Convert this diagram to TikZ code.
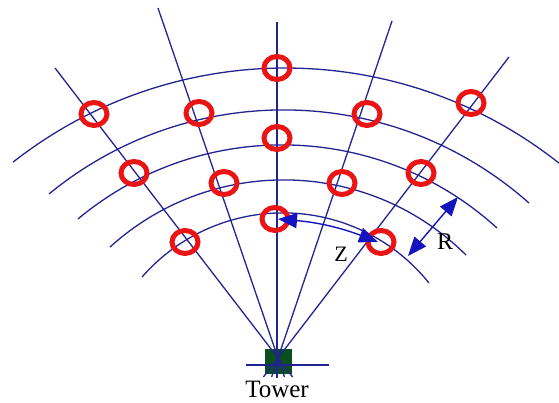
\documentclass[tikz,border=0pt]{standalone}
\usepackage{fontspec}
\setmainfont{Liberation Serif}
\usetikzlibrary{arrows.meta,shapes.geometric}
\definecolor{navy}{RGB}{35,35,145}
\definecolor{arrblue}{RGB}{20,20,190}
\definecolor{ringred}{RGB}{235,20,20}
\definecolor{towergreen}{RGB}{10,80,30}
\begin{document}
\begin{tikzpicture}[x=1pt,y=1pt,
  grid/.style={draw=navy,line width=1.3pt},
  ring/.style={ellipse,draw=ringred,line width=5pt,minimum width=26pt,minimum height=23pt,inner sep=0pt},
  dim/.style={draw=arrblue,line width=1.4pt,{Triangle[length=19pt,width=15pt]}-{Triangle[length=19pt,width=15pt]}},
  lbl/.style={inner sep=0pt,text=black}]
\useasboundingbox (0,0) rectangle (559,403);
% tower
\node[draw=towergreen,fill=towergreen,minimum width=26pt,minimum height=24pt,inner sep=0pt] (tower) at (278,42) {};
\coordinate (hl) at (246,38);
\coordinate (hr) at (329,38);
\draw[grid] (hl) -- (hr);
% radial lines
\coordinate (tL1) at (55,335);  \coordinate (bL1) at (292.6,26);
\coordinate (tL2) at (158,395); \coordinate (bL2) at (284.5,26);
\coordinate (tC)  at (277,381); \coordinate (bC)  at (277,25);
\coordinate (tR1) at (392,382); \coordinate (bR1) at (271.6,26);
\coordinate (tR2) at (509,346); \coordinate (bR2) at (263.4,26);
\draw[grid] (tL1) -- (bL1);
\draw[grid] (tL2) -- (bL2);
\draw[grid,line width=1.6pt] (tC) -- (bC);
\draw[grid] (tR1) -- (bR1);
\draw[grid] (tR2) -- (bR2);
% arcs
\draw[grid] (285.4,-106.1) ++(51.67:441.1) arc[start angle=51.67,end angle=128.12,radius=441.1];
\draw[grid] (283.7,-76.6) ++(48.43:369.7) arc[start angle=48.43,end angle=129.41,radius=369.7];
\draw[grid] (282.3,-60.8) ++(47.68:318.9) arc[start angle=47.68,end angle=129.84,radius=318.9];
\draw[grid] (283.8,-35.4) ++(45.18:258.5) arc[start angle=45.18,end angle=132.24,radius=258.5];
\draw[grid] (283,3.1) ++(38.68:187) arc[start angle=38.68,end angle=138.92,radius=187];
% rings
\node[ring] (c1) at (277,335) {};
\node[ring] (c2) at (94,289) {};
\node[ring] (c3) at (199,290) {};
\node[ring] (c4) at (367,289) {};
\node[ring] (c5) at (471,300) {};
\node[ring] (c6) at (277,265) {};
\node[ring] (c7) at (134,230) {};
\node[ring] (c8) at (224,220) {};
\node[ring] (c9) at (342,220) {};
\node[ring] (c10) at (421,230) {};
\node[ring] (c11) at (185,161) {};
\node[ring] (c12) at (275,184) {};
\node[ring] (c13) at (381,161) {};
% Z arrow
\coordinate (zl) at (278,184);
\coordinate (zr) at (378,161);
\draw[dim] (zl) to[bend left=8] (zr);
\node[lbl,font=\fontsize{22}{22}\selectfont] (zlab) at (341,149) {Z};
% R arrow
\coordinate (ru) at (458,206);
\coordinate (rd) at (408,147);
\draw[dim] (rd) -- (ru);
\node[lbl,font=\fontsize{24}{24}\selectfont] (rlab) at (445,161) {R};
% tower label
\node[lbl,anchor=base,font=\fontsize{25}{25}\selectfont] (tlab) at (277,5) {Tower};
\end{tikzpicture}
\end{document}
